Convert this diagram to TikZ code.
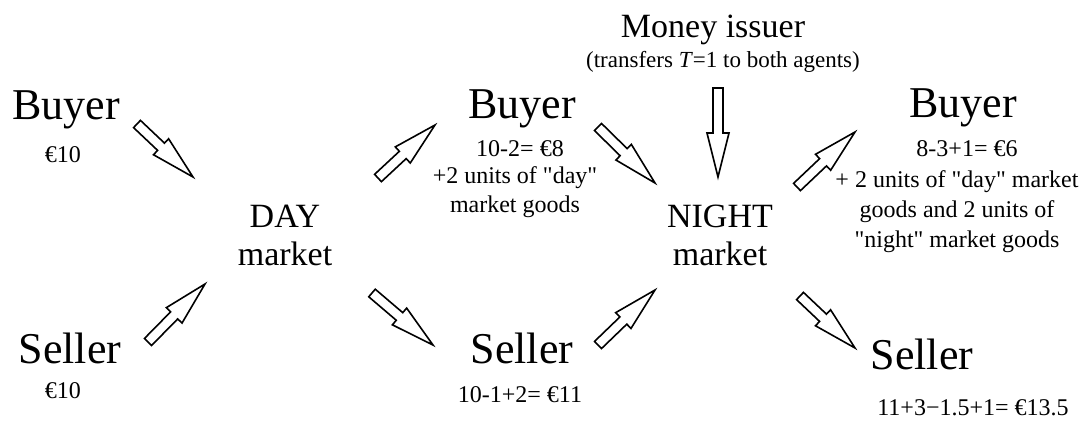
\documentclass[tikz,border=0pt]{standalone}
\usepackage{fontspec}
\setmainfont{Liberation Serif}[Ligatures=TeXOff]
\usepackage{tikz}
\usetikzlibrary{calc}
\newcommand{\hollowarrow}[2]{%
  \coordinate (hb) at ($(#2)!22pt!(#1)$);
  \draw[hollow] ($(#1)!2.5pt!90:(#2)$) -- ($(hb)!2.5pt!90:(#2)$) -- ($(hb)!5.5pt!90:(#2)$) -- (#2)
    -- ($(hb)!5.5pt!-90:(#2)$) -- ($(hb)!2.5pt!-90:(#2)$) -- ($(#1)!2.5pt!-90:(#2)$) -- cycle;}

\begin{document}
\begin{tikzpicture}[x=0.5pt,y=-0.5pt,every node/.style={inner sep=0pt,anchor=base,align=center},
  agent/.style={font=\fontsize{22}{26}\selectfont},
  market/.style={font=\fontsize{17}{19}\selectfont},
  note/.style={font=\fontsize{12}{14.5}\selectfont},
  hollow/.style={draw=black,fill=white,line width=0.8pt,line join=miter}]
\useasboundingbox (0,0) rectangle (1088,423);
\node[agent] (buyerA) at (66,119) {Buyer};
\node[note] (cashA) at (63,162) {€10};
\node[agent] (sellerA) at (70,363) {Seller};
\node[note] (cashB) at (63,398) {€10};
\node[market] (day) at (285,265) {DAY\\market};
\node[agent] (buyerB) at (522,118) {Buyer};
\node[note] (cashC) at (520,156) {10-2= €8};
\node[note] (goodsB) at (515,212) {+2 units of "day"\\market goods};
\node[agent] (sellerB) at (522,363) {Seller};
\node[note] (cashD) at (520,402) {10-1+2= €11};
\node[market] (issuer) at (713,37) {Money issuer};
\node[font=\fontsize{11.5}{14}\selectfont] (transfer) at (723,68) {(transfers \textit{T}=1 to both agents)};
\node[market] (night) at (720,265) {NIGHT\\market};
\node[agent] (buyerC) at (963,117) {Buyer};
\node[note] (cashE) at (967,156) {8-3+1= €6};
\node[font=\fontsize{12}{14.8}\selectfont] (goodsC) at (957,247) {+ 2 units of "day" market\\goods and 2 units of\\"night" market goods};
\node[agent] (sellerC) at (922,369) {Seller};
\node[note] (cashF) at (973,415) {11+3−1.5+1= €13.5};
\coordinate (inA) at (137,124);
\coordinate (inA') at (193,177);
\coordinate (inB) at (148,342);
\coordinate (inB') at (205,284);
\coordinate (outA) at (378,178);
\coordinate (outA') at (435,125);
\coordinate (outB) at (372,293);
\coordinate (outB') at (433,345);
\coordinate (inC) at (598,127);
\coordinate (inC') at (655,183);
\coordinate (inD) at (598,345);
\coordinate (inD') at (655,290);
\coordinate (drop) at (718,88);
\coordinate (drop') at (718,177);
\coordinate (outC) at (797,187);
\coordinate (outC') at (855,132);
\coordinate (outD) at (800,296);
\coordinate (outD') at (855,348);
\hollowarrow{inA}{inA'}
\hollowarrow{inB}{inB'}
\hollowarrow{outA}{outA'}
\hollowarrow{outB}{outB'}
\hollowarrow{inC}{inC'}
\hollowarrow{inD}{inD'}
\hollowarrow{drop}{drop'}
\hollowarrow{outC}{outC'}
\hollowarrow{outD}{outD'}
\end{tikzpicture}
\end{document}
